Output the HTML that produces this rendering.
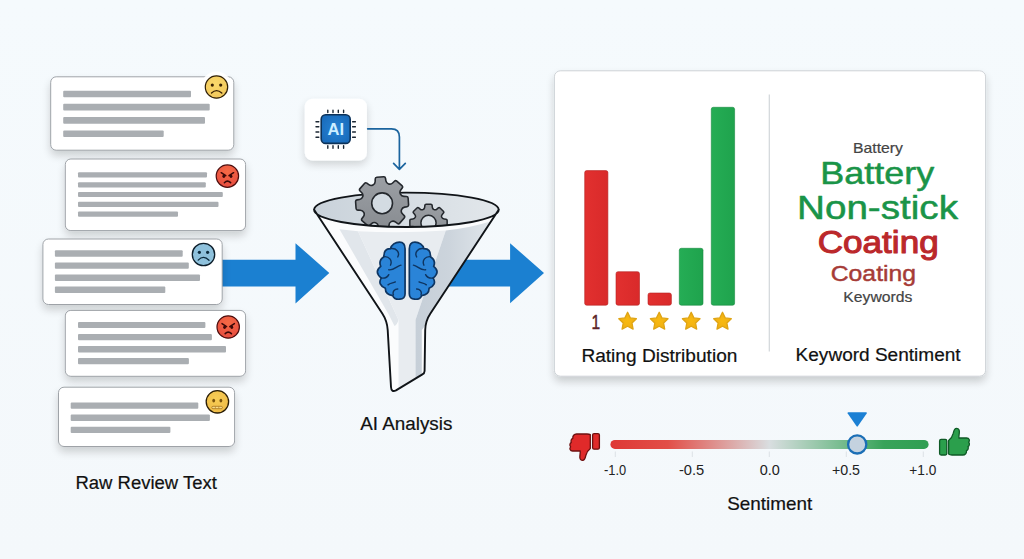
<!DOCTYPE html>
<html lang="en"><head><meta charset="utf-8"><title>AI Review Analysis</title>
<style>
html,body{margin:0;padding:0;background:#f4f9fc;}
body{width:1024px;height:559px;overflow:hidden;font-family:"Liberation Sans",sans-serif;}
svg{display:block}
text{font-family:"Liberation Sans",sans-serif;}
</style></head><body>
<svg width="1024" height="559" viewBox="0 0 1024 559">
<defs>
<linearGradient id="bg" x1="0" y1="0" x2="0" y2="1"><stop offset="0" stop-color="#f5fafd"/><stop offset="1" stop-color="#f4f8fb"/></linearGradient>
<radialGradient id="gy" cx="0.45" cy="0.35" r="0.75"><stop offset="0" stop-color="#fad96a"/><stop offset="1" stop-color="#f0c55a"/></radialGradient>
<radialGradient id="gy2" cx="0.45" cy="0.35" r="0.75"><stop offset="0" stop-color="#f8cd55"/><stop offset="1" stop-color="#edb945"/></radialGradient>
<radialGradient id="gr" cx="0.5" cy="0.3" r="0.8"><stop offset="0" stop-color="#f56a45"/><stop offset="1" stop-color="#e5483f"/></radialGradient>
<filter id="sh" x="-10%" y="-20%" width="120%" height="160%"><feGaussianBlur in="SourceAlpha" stdDeviation="4.5"/><feOffset dy="5"/><feComponentTransfer><feFuncA type="linear" slope="0.17"/></feComponentTransfer><feMerge><feMergeNode/><feMergeNode in="SourceGraphic"/></feMerge></filter>
<filter id="sh2" x="-10%" y="-10%" width="120%" height="130%"><feGaussianBlur in="SourceAlpha" stdDeviation="4"/><feOffset dy="5"/><feComponentTransfer><feFuncA type="linear" slope="0.18"/></feComponentTransfer><feMerge><feMergeNode/><feMergeNode in="SourceGraphic"/></feMerge></filter>
<filter id="sh3" x="-30%" y="-30%" width="160%" height="170%"><feGaussianBlur in="SourceAlpha" stdDeviation="4"/><feOffset dy="4"/><feComponentTransfer><feFuncA type="linear" slope="0.16"/></feComponentTransfer><feMerge><feMergeNode/><feMergeNode in="SourceGraphic"/></feMerge></filter>
<linearGradient id="track" x1="0" y1="0" x2="1" y2="0"><stop offset="0" stop-color="#de3835"/><stop offset="0.18" stop-color="#e24e48"/><stop offset="0.5" stop-color="#d9dee0"/><stop offset="0.75" stop-color="#6cb886"/><stop offset="0.86" stop-color="#38a35a"/><stop offset="1" stop-color="#2f9e52"/></linearGradient>
<linearGradient id="red" x1="0" y1="0" x2="1" y2="0"><stop offset="0" stop-color="#e2302f"/><stop offset="1" stop-color="#d92a2a"/></linearGradient>
<linearGradient id="green" x1="0" y1="0" x2="1" y2="0"><stop offset="0" stop-color="#25ad55"/><stop offset="1" stop-color="#1fa34d"/></linearGradient>
<linearGradient id="gear" x1="0" y1="0" x2="0" y2="1"><stop offset="0" stop-color="#9b9fa4"/><stop offset="1" stop-color="#888c91"/></linearGradient>
<linearGradient id="fr" gradientUnits="userSpaceOnUse" x1="415" y1="0" x2="490" y2="0"><stop offset="0" stop-color="#c6cfd8"/><stop offset="0.45" stop-color="#ccd4dc"/><stop offset="1" stop-color="#dfe5ea"/></linearGradient>
<radialGradient id="chip" cx="0.5" cy="0.5" r="0.7"><stop offset="0" stop-color="#2582d4"/><stop offset="1" stop-color="#1767b6"/></radialGradient>
<radialGradient id="starg" cx="0.5" cy="0.5" r="0.6"><stop offset="0" stop-color="#f8b90f"/><stop offset="1" stop-color="#efae14"/></radialGradient>
<linearGradient id="rim" x1="0" y1="0" x2="1" y2="0"><stop offset="0" stop-color="#c9d2da"/><stop offset="0.5" stop-color="#d6dde3"/><stop offset="1" stop-color="#e2e7eb"/></linearGradient>
<clipPath id="rimclip"><path d="M300,150 H520 V209.8 H498.7 A92.3,17.2 0 0 1 314.1,209.8 H300 Z"/></clipPath>
<clipPath id="bodyclip"><path d="M314.1,209.8 A92.3,17.2 0 0 0 498.7,209.8 L430.4,313.5 Q425.4,321 425.2,330 L424.6,371 Q424.5,373.4 422.4,374.4 L396,390.4 Q391.3,392.6 391,387 L387.7,330 Q387.2,321 382.3,313.5 Z"/></clipPath>
</defs>
<rect width="1024" height="559" fill="url(#bg)"/>

<path d="M215,259.7 H295.5 V243.2 L329.3,272.9 L295.5,303.6 V286.5 H215 Z" fill="#1b80d1"/>
<path d="M440,259.7 H510.1 V243.2 L544,273 L510.1,303.3 V286.5 H440 Z" fill="#1b80d1"/>
<rect x="50.7" y="76.8" width="183.1" height="73.4" rx="5.5" fill="#fff" stroke="#959a9f" stroke-width="0.9" filter="url(#sh)"/>
<rect x="63.2" y="90.7" width="127.8" height="6.5" rx="1" fill="#aaaeb2"/>
<rect x="63.2" y="103.8" width="146.5" height="6.8" rx="1" fill="#aaaeb2"/>
<rect x="63.2" y="117.1" width="141.8" height="6.7" rx="1" fill="#aaaeb2"/>
<rect x="63.2" y="130.5" width="100.5" height="6.4" rx="1" fill="#aaaeb2"/>
<g transform="translate(216.5,87)"><circle r="15.5" fill="#fff" opacity="0.92"/><circle r="11.2" fill="url(#gy)" stroke="#2e1f08" stroke-width="1.2"/><circle cx="-4.2" cy="-1.9" r="1.6" fill="#3a2204"/><circle cx="4.2" cy="-1.9" r="1.6" fill="#3a2204"/><path d="M-5,6 Q0,1.2 5.3,6" fill="none" stroke="#3a2204" stroke-width="1.3" stroke-linecap="round"/></g>
<rect x="65.3" y="159" width="180.3" height="71.6" rx="5.5" fill="#fff" stroke="#959a9f" stroke-width="0.9" filter="url(#sh)"/>
<rect x="78" y="172.3" width="129.0" height="5.2" rx="1" fill="#aaaeb2"/>
<rect x="78" y="182.2" width="127.8" height="5.2" rx="1" fill="#aaaeb2"/>
<rect x="78" y="192.1" width="144.8" height="5.0" rx="1" fill="#aaaeb2"/>
<rect x="78" y="201.8" width="140.5" height="5.2" rx="1" fill="#aaaeb2"/>
<rect x="78" y="211.4" width="100.0" height="5.4" rx="1" fill="#aaaeb2"/>
<g transform="translate(227.4,176.1)"><circle r="13.2" fill="#fff" opacity="0.92"/><circle r="11.2" fill="url(#gr)" stroke="#4a0d0d" stroke-width="1.2"/><path d="M-6.2,-3.4 L-1.6,-0.4 M6.2,-3.4 L1.6,-0.4" stroke="#3a0808" stroke-width="1.5" stroke-linecap="round"/><ellipse cx="-3.6" cy="0.2" rx="1.4" ry="1.7" fill="#3a0808"/><ellipse cx="3.6" cy="0.2" rx="1.4" ry="1.7" fill="#3a0808"/><path d="M-3,6.6 Q0,3.6 3.2,6.6" fill="none" stroke="#3a0808" stroke-width="1.6" stroke-linecap="round"/></g>
<rect x="42.9" y="239" width="179.3" height="65.5" rx="5.5" fill="#fff" stroke="#959a9f" stroke-width="0.9" filter="url(#sh)"/>
<rect x="54.9" y="250.3" width="127.8" height="6.5" rx="1" fill="#aaaeb2"/>
<rect x="54.9" y="262.4" width="133.9" height="6.4" rx="1" fill="#aaaeb2"/>
<rect x="54.9" y="274.4" width="145.1" height="6.5" rx="1" fill="#aaaeb2"/>
<rect x="54.9" y="286.4" width="110.4" height="6.5" rx="1" fill="#aaaeb2"/>
<g transform="translate(203.5,254.5)"><circle r="13.2" fill="#fff" opacity="0.92"/><circle r="11.2" fill="#8ec1dc" stroke="#0c1c28" stroke-width="1.3"/><circle cx="-4.1" cy="-2.2" r="1.6" fill="#0c2a3c"/><circle cx="4.1" cy="-2.2" r="1.6" fill="#0c2a3c"/><path d="M-5.3,5.6 Q0,0.2 5.5,5.8" fill="none" stroke="#0c2a3c" stroke-width="1.3" stroke-linecap="round"/></g>
<rect x="65.3" y="310.4" width="180.3" height="65.9" rx="5.5" fill="#fff" stroke="#959a9f" stroke-width="0.9" filter="url(#sh)"/>
<rect x="78" y="321.9" width="127.4" height="6.2" rx="1" fill="#aaaeb2"/>
<rect x="78" y="333.9" width="133.9" height="6.3" rx="1" fill="#aaaeb2"/>
<rect x="78" y="346" width="148.0" height="6.4" rx="1" fill="#aaaeb2"/>
<rect x="78" y="358" width="110.9" height="6.2" rx="1" fill="#aaaeb2"/>
<g transform="translate(228.2,327)"><circle r="13.2" fill="#fff" opacity="0.92"/><circle r="11.2" fill="url(#gr)" stroke="#4a0d0d" stroke-width="1.2"/><path d="M-6.2,-3.4 L-1.6,-0.4 M6.2,-3.4 L1.6,-0.4" stroke="#3a0808" stroke-width="1.5" stroke-linecap="round"/><ellipse cx="-3.6" cy="0.2" rx="1.4" ry="1.7" fill="#3a0808"/><ellipse cx="3.6" cy="0.2" rx="1.4" ry="1.7" fill="#3a0808"/><path d="M-3,6.6 Q0,3.6 3.2,6.6" fill="none" stroke="#3a0808" stroke-width="1.6" stroke-linecap="round"/></g>
<rect x="58.5" y="387.2" width="176.1" height="59.3" rx="5.5" fill="#fff" stroke="#959a9f" stroke-width="0.9" filter="url(#sh)"/>
<rect x="70.7" y="402.5" width="127.6" height="6.2" rx="1" fill="#aaaeb2"/>
<rect x="70.7" y="414.5" width="139.2" height="6.5" rx="1" fill="#aaaeb2"/>
<rect x="70.7" y="426.8" width="99.7" height="6.2" rx="1" fill="#aaaeb2"/>
<g transform="translate(217.4,401.8)"><circle r="13.2" fill="#fff" opacity="0.92"/><circle r="11.2" fill="url(#gy2)" stroke="#2a1d06" stroke-width="1.3"/><ellipse cx="-3.7" cy="-1.2" rx="1.4" ry="1.9" fill="#7a530c"/><ellipse cx="3.5" cy="-1.2" rx="1.4" ry="1.9" fill="#7a530c"/><rect x="-5.6" y="4.5" width="10.6" height="2.4" rx="1.2" fill="#f7dc8a" stroke="#a8741a" stroke-width="0.8"/><path d="M-2,4.7v2 M1.4,4.7v2" stroke="#a8741a" stroke-width="0.6"/></g>
<text x="146.2" y="488.6" font-size="18" font-weight="400" text-anchor="middle" fill="#111" stroke="#111" stroke-width="0.2" stroke-linejoin="round" textLength="141.6" lengthAdjust="spacingAndGlyphs">Raw Review Text</text>
<rect x="304.8" y="98.7" width="62.1" height="61.9" rx="8" fill="#fff" filter="url(#sh3)"/>
<path d="M327.8,110.2V112.6 M327.8,145.8V148.2 M333,110.2V112.6 M333,145.8V148.2 M338.3,110.2V112.6 M338.3,145.8V148.2 M343.6,110.2V112.6 M343.6,145.8V148.2 M316,121.7H318.8 M352.6,121.7H355.4 M316,126.8H318.8 M352.6,126.8H355.4 M316,132H318.8 M352.6,132H355.4 M316,137.3H318.8 M352.6,137.3H355.4 " stroke="#1c2733" stroke-width="1.4" stroke-linecap="round"/>
<rect x="321.2" y="114.8" width="29" height="28.6" rx="4.5" fill="url(#chip)" stroke="#0c3259" stroke-width="1.6"/>
<text x="335.7" y="134.9" font-size="16" font-weight="700" text-anchor="middle" fill="#cdeeff" textLength="16.6" lengthAdjust="spacingAndGlyphs">AI</text>
<path d="M367.7,128.8 H391.5 Q399.4,128.8 399.4,137 V168.6 M393.6,163.4 L399.4,169.3 L405.3,163.4" fill="none" stroke="#1b649e" stroke-width="1.7" stroke-linecap="round" stroke-linejoin="round"/>
<g>
<ellipse cx="406.4" cy="209.8" rx="92.3" ry="17.2" fill="url(#rim)"/>
<path d="M314.1,209.8 A92.3,17.2 0 0 1 498.7,209.8" fill="none" stroke="#101418" stroke-width="1.8"/>
<g clip-path="url(#rimclip)">
<path d="M372.99,184.98 Q375.14,183.91 375.18,181.51 L375.23,178.99 Q375.25,177.39 376.85,177.28 L383.68,176.80 Q385.27,176.69 385.52,178.27 L385.92,180.76 Q386.30,183.13 388.57,183.89 L388.61,183.91 Q390.89,184.67 392.61,183.00 L394.43,181.25 Q395.58,180.14 396.79,181.19 L401.95,185.68 Q403.16,186.73 402.22,188.02 L400.74,190.06 Q399.33,192.01 400.40,194.15 L400.42,194.19 Q401.49,196.34 403.89,196.38 L406.41,196.43 Q408.01,196.45 408.12,198.05 L408.60,204.88 Q408.71,206.47 407.13,206.72 L404.64,207.12 Q402.27,207.50 401.51,209.77 L401.49,209.81 Q400.73,212.09 402.40,213.81 L404.15,215.63 Q405.26,216.78 404.21,217.99 L399.72,223.15 Q398.67,224.36 397.38,223.42 L395.34,221.94 Q393.39,220.53 391.25,221.60 L391.21,221.62 Q389.06,222.69 389.02,225.09 L388.97,227.61 Q388.95,229.21 387.35,229.32 L380.52,229.80 Q378.93,229.91 378.68,228.33 L378.28,225.84 Q377.90,223.47 375.63,222.71 L375.59,222.69 Q373.31,221.93 371.59,223.60 L369.77,225.35 Q368.62,226.46 367.41,225.41 L362.25,220.92 Q361.04,219.87 361.98,218.58 L363.46,216.54 Q364.87,214.59 363.80,212.45 L363.78,212.41 Q362.71,210.26 360.31,210.22 L357.79,210.17 Q356.19,210.15 356.08,208.55 L355.60,201.72 Q355.49,200.13 357.07,199.88 L359.56,199.48 Q361.93,199.10 362.69,196.83 L362.71,196.79 Q363.47,194.51 361.80,192.79 L360.05,190.97 Q358.94,189.82 359.99,188.61 L364.48,183.45 Q365.53,182.24 366.82,183.18 L368.86,184.66 Q370.81,186.07 372.95,185.00 Z" fill="url(#gear)" stroke="#24282d" stroke-width="1.6" stroke-linejoin="round"/>
<circle cx="382.1" cy="203.3" r="10.4" fill="#d3dbe2" stroke="#24282d" stroke-width="1.6"/>
<path d="M423.03,209.59 Q424.59,208.94 424.72,207.15 L424.85,205.33 Q424.94,204.14 426.14,204.14 L430.86,204.14 Q432.06,204.14 432.15,205.33 L432.28,207.15 Q432.41,208.94 433.97,209.59 L433.97,209.59 Q435.54,210.24 436.90,209.06 L438.27,207.87 Q439.18,207.09 440.03,207.93 L443.37,211.27 Q444.21,212.12 443.43,213.03 L442.24,214.40 Q441.06,215.76 441.71,217.33 L441.71,217.33 Q442.36,218.89 444.15,219.02 L445.97,219.15 Q447.16,219.24 447.16,220.44 L447.16,225.16 Q447.16,226.36 445.97,226.45 L444.15,226.58 Q442.36,226.71 441.71,228.27 L441.71,228.27 Q441.06,229.84 442.24,231.20 L443.43,232.57 Q444.21,233.48 443.37,234.33 L440.03,237.67 Q439.18,238.51 438.27,237.73 L436.90,236.54 Q435.54,235.36 433.97,236.01 L433.97,236.01 Q432.41,236.66 432.28,238.45 L432.15,240.27 Q432.06,241.46 430.86,241.46 L426.14,241.46 Q424.94,241.46 424.85,240.27 L424.72,238.45 Q424.59,236.66 423.03,236.01 L423.03,236.01 Q421.46,235.36 420.10,236.54 L418.73,237.73 Q417.82,238.51 416.97,237.67 L413.63,234.33 Q412.79,233.48 413.57,232.57 L414.76,231.20 Q415.94,229.84 415.29,228.27 L415.29,228.27 Q414.64,226.71 412.85,226.58 L411.03,226.45 Q409.84,226.36 409.84,225.16 L409.84,220.44 Q409.84,219.24 411.03,219.15 L412.85,219.02 Q414.64,218.89 415.29,217.33 L415.29,217.33 Q415.94,215.76 414.76,214.40 L413.57,213.03 Q412.79,212.12 413.63,211.27 L416.97,207.93 Q417.82,207.09 418.73,207.87 L420.10,209.06 Q421.46,210.24 423.03,209.59 Z" fill="url(#gear)" stroke="#24282d" stroke-width="1.5" stroke-linejoin="round"/>
<circle cx="428.5" cy="222.8" r="7.6" fill="#d9e0e6" stroke="#24282d" stroke-width="1.5"/>
</g>
<path d="M314.1,209.8 A92.3,17.2 0 0 0 498.7,209.8 L430.4,313.5 Q425.4,321 425.2,330 L424.6,371 Q424.5,373.4 422.4,374.4 L396,390.4 Q391.3,392.6 391,387 L387.7,330 Q387.2,321 382.3,313.5 Z" fill="#fbfcfd"/>
<g clip-path="url(#bodyclip)">
<path d="M339.5,229.2 L358,231.2 L398.5,320 Q397,325 394.5,326 L389,315 Z" fill="#e1e6eb"/>
<path d="M358,231.2 Q402,233.6 445.8,230.4 L415.5,320 V395 H398.5 V320 Z" fill="#e8ecf0"/>
<path d="M445.8,230.4 Q470,228 492,221 L500,215 L428,322 L421.8,330 V395 H415.5 V320 Z" fill="url(#fr)"/>
</g>
<path d="M314.1,209.8 A92.3,17.2 0 0 0 498.7,209.8 L430.4,313.5 Q425.4,321 425.2,330 L424.6,371 Q424.5,373.4 422.4,374.4 L396,390.4 Q391.3,392.6 391,387 L387.7,330 Q387.2,321 382.3,313.5 Z" fill="none" stroke="#101418" stroke-width="1.9" stroke-linejoin="round"/>
</g>
<g fill="#2a84d8" stroke="#0e3561" stroke-width="1.7" stroke-linejoin="round" stroke-linecap="round">
<path d="M405.07,248.77 C405.07,244.02 402.64,242.08 399.48,242.08 C395.34,242.08 391.45,244.75 390.48,248.64 Q383.55,248.52 383.91,256.67 Q378.20,260.32 380.75,266.40 Q373.70,271.74 381.24,278.07 Q377.23,284.63 385.37,288.28 Q385.13,294.36 392.67,295.57 C393.88,298.49 396.80,299.47 399.72,299.22 C402.88,298.98 405.07,297.03 405.07,293.63 Z"/>
<path d="M405.07,248.77 C405.07,244.02 402.64,242.08 399.48,242.08 C395.34,242.08 391.45,244.75 390.48,248.64 Q383.55,248.52 383.91,256.67 Q378.20,260.32 380.75,266.40 Q373.70,271.74 381.24,278.07 Q377.23,284.63 385.37,288.28 Q385.13,294.36 392.67,295.57 C393.88,298.49 396.80,299.47 399.72,299.22 C402.88,298.98 405.07,297.03 405.07,293.63 Z" transform="translate(814.4,0) scale(-1,1)"/>
</g>
<path d="M390.48,248.64 C396.32,247.55 400.21,252.41 397.78,256.91 M383.91,256.67 C389.02,256.06 392.67,260.32 390.48,265.18 M388.78,269.80 C393.88,270.65 396.92,265.79 400.94,265.18 M381.24,278.07 C385.37,278.55 387.81,276.73 388.78,274.66 M388.05,284.88 C390.24,282.81 393.28,283.17 395.34,281.96 M393.40,294.84 C392.06,291.32 395.10,288.89 397.78,289.01 " fill="none" stroke="#0e3561" stroke-width="1.4" stroke-linecap="round"/>
<path d="M390.48,248.64 C396.32,247.55 400.21,252.41 397.78,256.91 M383.91,256.67 C389.02,256.06 392.67,260.32 390.48,265.18 M388.78,269.80 C393.88,270.65 396.92,265.79 400.94,265.18 M381.24,278.07 C385.37,278.55 387.81,276.73 388.78,274.66 M388.05,284.88 C390.24,282.81 393.28,283.17 395.34,281.96 M393.40,294.84 C392.06,291.32 395.10,288.89 397.78,289.01 " fill="none" stroke="#0e3561" stroke-width="1.4" stroke-linecap="round" transform="translate(814.4,0) scale(-1,1)"/>
<text x="406.3" y="430.4" font-size="18" font-weight="400" text-anchor="middle" fill="#111" stroke="#111" stroke-width="0.2" stroke-linejoin="round" textLength="92.2" lengthAdjust="spacingAndGlyphs">AI Analysis</text>
<rect x="554.4" y="70.8" width="431.2" height="305.4" rx="6" fill="#fff" stroke="#c9ced3" stroke-width="0.9" filter="url(#sh2)"/>
<path d="M769.3,94.5 V351.4" stroke="#d2d6da" stroke-width="1.2"/>
<rect x="584.7" y="170.6" width="23.2" height="134.6" rx="2" fill="url(#red)" stroke="#b52222" stroke-width="0.6"/>
<rect x="616" y="271.7" width="23.5" height="33.5" rx="2" fill="url(#red)" stroke="#b52222" stroke-width="0.6"/>
<rect x="648" y="293" width="23.4" height="12.2" rx="2" fill="url(#red)" stroke="#b52222" stroke-width="0.6"/>
<rect x="679.3" y="248.3" width="23.7" height="56.9" rx="2" fill="url(#green)" stroke="#178a40" stroke-width="0.6"/>
<rect x="711.3" y="107.3" width="23.3" height="197.9" rx="2" fill="url(#green)" stroke="#178a40" stroke-width="0.6"/>
<text x="595.8" y="328.9" font-size="20" font-weight="400" text-anchor="middle" fill="#5c2427" stroke="#5c2427" stroke-width="0.5" stroke-linejoin="round" textLength="8.6" lengthAdjust="spacingAndGlyphs">1</text>
<path d="M627.6,312.3 L630.3,317.9 L636.4,318.7 L632.0,323.0 L633.1,329.1 L627.6,326.2 L622.1,329.1 L623.2,323.0 L618.8,318.7 L624.9,317.9Z" fill="url(#starg)" stroke="#dfa414" stroke-width="1.3" stroke-linejoin="round"/>
<path d="M659.2,312.3 L661.9,317.9 L668.0,318.7 L663.6,323.0 L664.7,329.1 L659.2,326.2 L653.7,329.1 L654.8,323.0 L650.4,318.7 L656.5,317.9Z" fill="url(#starg)" stroke="#dfa414" stroke-width="1.3" stroke-linejoin="round"/>
<path d="M691.2,312.3 L693.9,317.9 L700.0,318.7 L695.6,323.0 L696.7,329.1 L691.2,326.2 L685.7,329.1 L686.8,323.0 L682.4,318.7 L688.5,317.9Z" fill="url(#starg)" stroke="#dfa414" stroke-width="1.3" stroke-linejoin="round"/>
<path d="M722.5,312.3 L725.2,317.9 L731.3,318.7 L726.9,323.0 L728.0,329.1 L722.5,326.2 L717.0,329.1 L718.1,323.0 L713.7,318.7 L719.8,317.9Z" fill="url(#starg)" stroke="#dfa414" stroke-width="1.3" stroke-linejoin="round"/>
<text x="659.4" y="362" font-size="18" font-weight="400" text-anchor="middle" fill="#111" stroke="#111" stroke-width="0.2" stroke-linejoin="round" textLength="156" lengthAdjust="spacingAndGlyphs">Rating Distribution</text>
<text x="878" y="152.9" font-size="14.5" font-weight="400" text-anchor="middle" fill="#444" stroke="#444" stroke-width="0.2" stroke-linejoin="round" textLength="50" lengthAdjust="spacingAndGlyphs">Battery</text>
<text x="877.2" y="183.7" font-size="30.5" font-weight="400" text-anchor="middle" fill="#1a9448" stroke="#1a9448" stroke-width="0.5" stroke-linejoin="round" textLength="114" lengthAdjust="spacingAndGlyphs">Battery</text>
<text x="877.5" y="219.4" font-size="32.5" font-weight="400" text-anchor="middle" fill="#1a9448" stroke="#1a9448" stroke-width="0.5" stroke-linejoin="round" textLength="161" lengthAdjust="spacingAndGlyphs">Non-stick</text>
<text x="878.2" y="253" font-size="31" font-weight="400" text-anchor="middle" fill="#bb282b" stroke="#bb282b" stroke-width="1.05" stroke-linejoin="round" textLength="121" lengthAdjust="spacingAndGlyphs">Coating</text>
<text x="873.4" y="281" font-size="22.5" font-weight="400" text-anchor="middle" fill="#a63b37" stroke="#a63b37" stroke-width="0.45" stroke-linejoin="round" textLength="85.4" lengthAdjust="spacingAndGlyphs">Coating</text>
<text x="877.8" y="302.4" font-size="14" font-weight="400" text-anchor="middle" fill="#444" stroke="#444" stroke-width="0.2" stroke-linejoin="round" textLength="69" lengthAdjust="spacingAndGlyphs">Keywords</text>
<text x="878.1" y="361.2" font-size="18" font-weight="400" text-anchor="middle" fill="#111" stroke="#111" stroke-width="0.2" stroke-linejoin="round" textLength="165" lengthAdjust="spacingAndGlyphs">Keyword Sentiment</text>
<rect x="610.4" y="439.9" width="318.2" height="9" rx="4.5" fill="url(#track)"/>
<path d="M615.3,451.5V457" stroke="#dde2e6" stroke-width="1"/>
<path d="M692.3,451.5V457" stroke="#dde2e6" stroke-width="1"/>
<path d="M769.3,451.5V457" stroke="#dde2e6" stroke-width="1"/>
<path d="M846.3,451.5V457" stroke="#dde2e6" stroke-width="1"/>
<path d="M923.3,451.5V457" stroke="#dde2e6" stroke-width="1"/>
<circle cx="857.2" cy="444.4" r="9.1" fill="#c4d2df" stroke="#1b6fb6" stroke-width="2.3"/>
<path d="M848.4,412.2 H866 Q867.3,412.3 866.7,413.4 L857.8,426.3 Q857.2,427.1 856.6,426.3 L847.7,413.4 Q847.2,412.3 848.4,412.2 Z" fill="#1b80d4"/>
<text x="615.1" y="475.4" font-size="14" font-weight="400" text-anchor="middle" fill="#222" textLength="22.2" lengthAdjust="spacingAndGlyphs">-1.0</text>
<text x="691.6" y="475.4" font-size="14" font-weight="400" text-anchor="middle" fill="#222" textLength="25.3" lengthAdjust="spacingAndGlyphs">-0.5</text>
<text x="769.8" y="475.4" font-size="14" font-weight="400" text-anchor="middle" fill="#222" textLength="20.1" lengthAdjust="spacingAndGlyphs">0.0</text>
<text x="846" y="475.4" font-size="14" font-weight="400" text-anchor="middle" fill="#222" textLength="28.1" lengthAdjust="spacingAndGlyphs">+0.5</text>
<text x="922.8" y="475.4" font-size="14" font-weight="400" text-anchor="middle" fill="#222" textLength="27" lengthAdjust="spacingAndGlyphs">+1.0</text>
<text x="769.7" y="509.7" font-size="18.6" font-weight="400" text-anchor="middle" fill="#111" stroke="#111" stroke-width="0.2" stroke-linejoin="round" textLength="85" lengthAdjust="spacingAndGlyphs">Sentiment</text>
<g fill="#e02a2a" stroke="#6d1010" stroke-width="1.3" stroke-linejoin="round">
<rect x="592.6" y="433.6" width="6.8" height="15.6" rx="1.5"/>
<path d="M590.3,434.6 V448.6 C588.5,450 586.5,452.5 585.8,455.5 C585.3,458 584.6,460.3 582.6,460.4 C580.2,460.5 579.6,458.2 579.9,455.8 C580.1,454 580.4,452.4 580.2,451 H572.6 C570,451 569.2,448.5 570.6,446.8 C569.4,445.5 569.8,443.3 571.3,442.4 C570.6,440.9 571.2,439 572.8,438.3 C572.6,436 574,434 576.6,434 H587 C588.5,434 589.6,434.2 590.3,434.6 Z"/>
</g>
<g fill="#2b9f4c" stroke="#0f5a26" stroke-width="1.3" stroke-linejoin="round">
<rect x="939.6" y="439.4" width="7.2" height="15.6" rx="1.5"/>
<path d="M948.6,454 V440.6 C950.6,439 952.6,436.4 953.3,433.2 C953.8,430.6 954.6,428.3 956.6,428.3 C959,428.3 959.6,430.6 959.3,433 C959.1,434.8 958.7,436.6 958.9,438 H966.6 C969.3,438 970.1,440.5 968.7,442.2 C969.9,443.5 969.5,445.7 968,446.6 C968.7,448.1 968.1,450 966.5,450.7 C966.7,453 965.3,455 962.7,455 H952 C950.5,455 949.3,454.6 948.6,454 Z"/>
</g>
</svg></body></html>
